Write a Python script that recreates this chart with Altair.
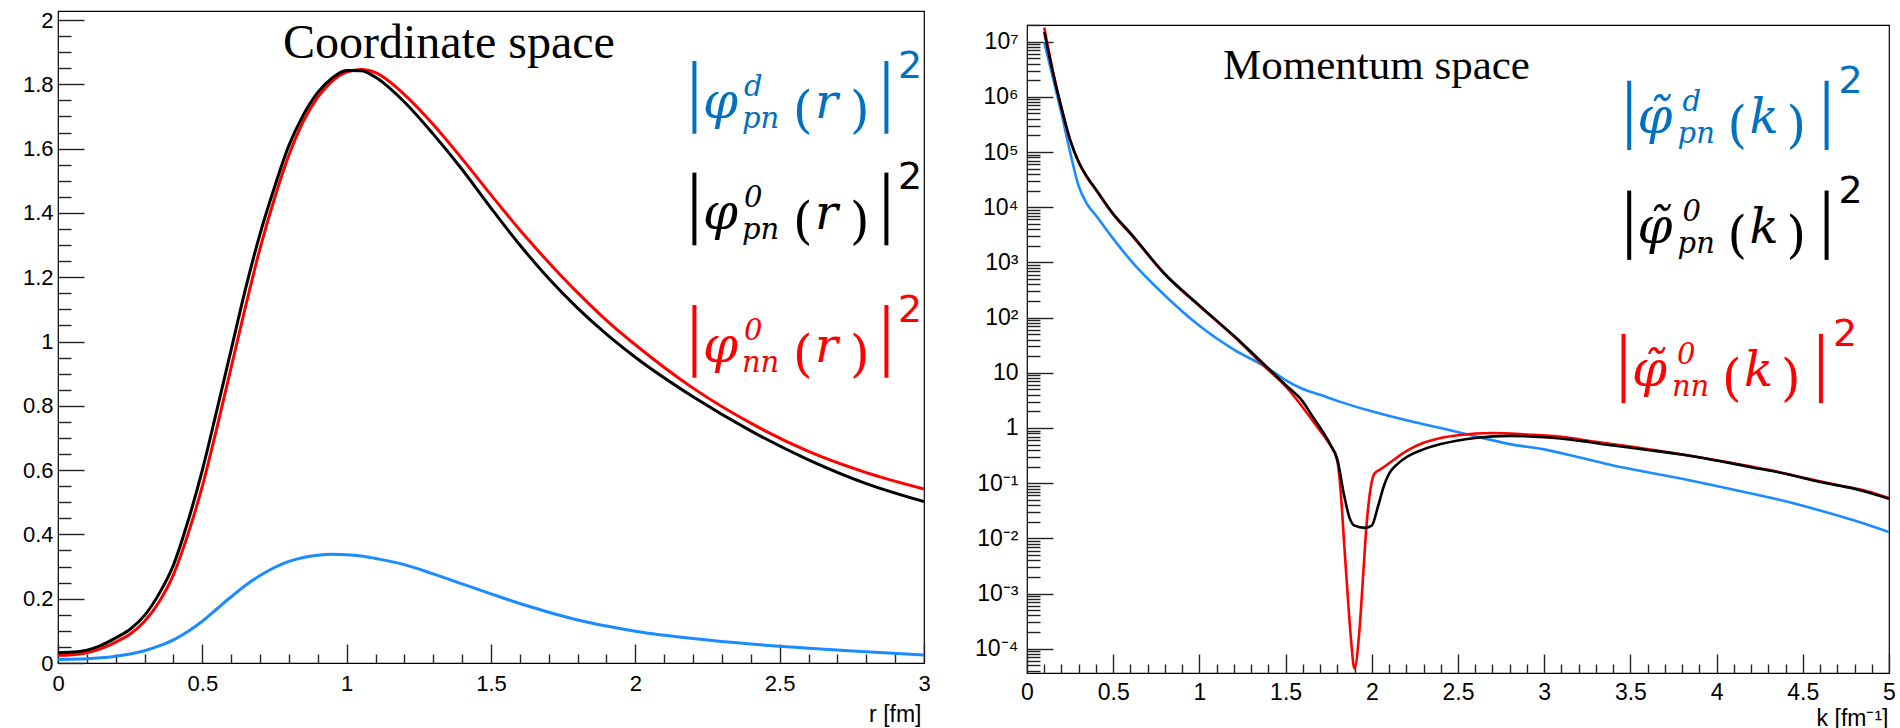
import altair as alt
import pandas as pd

# ---------------- coordinate space (r in fm) ----------------
R = [0.0, 0.05, 0.1, 0.15, 0.2, 0.25, 0.3, 0.35, 0.4, 0.45, 0.5, 0.55, 0.6, 0.65, 0.7, 0.75,
     0.8, 0.85, 0.9, 0.95, 1.0, 1.05, 1.1, 1.2, 1.3, 1.4, 1.5, 1.6, 1.7, 1.8, 1.9, 2.0, 2.2,
     2.4, 2.6, 2.8, 3.0]
PHI_D_R = [0.011, 0.012, 0.013, 0.016, 0.021, 0.028, 0.038, 0.053, 0.072, 0.098, 0.13, 0.168,
           0.206, 0.242, 0.272, 0.297, 0.316, 0.328, 0.335, 0.338, 0.337, 0.333, 0.325, 0.306,
           0.277, 0.246, 0.215, 0.185, 0.158, 0.134, 0.115, 0.099, 0.076, 0.059, 0.046, 0.035,
           0.025]
PHI0_PN_R = [0.032, 0.034, 0.040, 0.055, 0.078, 0.105, 0.148, 0.215, 0.305, 0.44, 0.60, 0.785,
             0.975, 1.165, 1.335, 1.48, 1.61, 1.705, 1.775, 1.82, 1.843, 1.842, 1.822, 1.745,
             1.645, 1.535, 1.415, 1.30, 1.196, 1.104, 1.023, 0.951, 0.828, 0.722, 0.632, 0.558,
             0.502]
PHI0_NN_R = [0.024, 0.026, 0.032, 0.045, 0.065, 0.09, 0.13, 0.19, 0.275, 0.40, 0.55, 0.73,
             0.92, 1.11, 1.29, 1.445, 1.58, 1.685, 1.76, 1.81, 1.838, 1.846, 1.836, 1.768,
             1.675, 1.568, 1.456, 1.347, 1.246, 1.152, 1.066, 0.99, 0.855, 0.746, 0.658, 0.592,
             0.541]

# ---------------- momentum space (k in fm^-1) ----------------
K_PN = [0.1, 0.15, 0.2, 0.25, 0.3, 0.35, 0.4, 0.5, 0.6, 0.8, 1.0, 1.2, 1.4, 1.5, 1.6, 1.65,
        1.7, 1.76, 1.8, 1.84, 1.87, 1.9, 1.96, 2.0, 2.035, 2.07, 2.1, 2.15, 2.2, 2.3, 2.4, 2.6,
        2.8, 3.0, 3.2, 3.4, 3.6, 3.8, 4.0, 4.2, 4.4, 4.6, 4.8, 5.0]
PHI0_PN_K = [1.5e7, 2.8e6, 6.3e5, 1.66e5, 6.6e4, 3.5e4, 2.1e4, 7.6e3, 3.4e3, 617, 166, 46.8,
             12.0, 6.0, 3.0, 1.74, 1.02, 0.50, 0.27, 0.059, 0.024, 0.017, 0.0155, 0.017, 0.037,
             0.089, 0.148, 0.224, 0.295, 0.41, 0.51, 0.66, 0.72, 0.68, 0.59, 0.48, 0.40, 0.33,
             0.257, 0.195, 0.148, 0.105, 0.079, 0.052]
K_NN = [0.1, 0.15, 0.2, 0.25, 0.3, 0.35, 0.4, 0.5, 0.6, 0.8, 1.0, 1.2, 1.4, 1.5, 1.6, 1.65,
        1.7, 1.75, 1.775, 1.79, 1.803, 1.822, 1.841, 1.861, 1.88, 1.899, 1.928, 1.948, 1.967,
        1.986, 2.015, 2.055, 2.1, 2.2, 2.3, 2.4, 2.5, 2.7, 2.9, 3.1, 3.3, 3.5, 3.7, 3.9, 4.1,
        4.3, 4.5, 4.7, 4.9, 5.0]
PHI0_NN_K = [1.8e7, 2.95e6, 6.3e5, 1.66e5, 6.5e4, 3.4e4, 2.05e4, 7.4e3, 3.3e3, 603, 162, 45.7,
             11.2, 5.75, 2.35, 1.45, 0.89, 0.54, 0.40, 0.32, 0.224, 0.056, 6.9e-3, 8.5e-4,
             1.4e-4, 4.4e-5, 2.1e-4, 1.74e-3, 0.0138, 0.056, 0.148, 0.182, 0.229, 0.38, 0.54,
             0.66, 0.74, 0.81, 0.76, 0.69, 0.56, 0.46, 0.37, 0.295, 0.229, 0.174, 0.126, 0.093,
             0.068, 0.054]
K_D = [0.1, 0.15, 0.2, 0.25, 0.3, 0.35, 0.4, 0.5, 0.6, 0.8, 1.0, 1.2, 1.4, 1.5, 1.6, 1.7,
       1.8, 2.0, 2.2, 2.4, 2.6, 2.8, 3.0, 3.2, 3.4, 3.6, 3.8, 4.0, 4.2, 4.4, 4.6, 4.8, 5.0]
PHI_D_K = [9.8e6, 2.24e6, 5.0e5, 1.0e5, 2.4e4, 1.12e4, 7.1e3, 2.7e3, 1.1e3, 251, 71, 26.3,
           12.0, 7.4, 5.1, 4.0, 3.1, 2.0, 1.38, 1.0, 0.71, 0.51, 0.41, 0.295, 0.209, 0.158,
           0.12, 0.089, 0.065, 0.047, 0.032, 0.021, 0.013]

# ---------------- axis ticks / labels ----------------
XMAJ_L = [0, 0.5, 1, 1.5, 2, 2.5, 3]
XMIN_L = [round(0.1 * i, 1) for i in range(1, 30) if i % 5]
YMAJ_L = [0, 0.2, 0.4, 0.6, 0.8, 1.0, 1.2, 1.4, 1.6, 1.8, 2.0]
YMIN_L = [round(0.05 * i, 2) for i in range(1, 41) if i % 4]
XMAJ_R = [0, 0.5, 1, 1.5, 2, 2.5, 3, 3.5, 4, 4.5, 5]
XMIN_R = [round(0.1 * i, 1) for i in range(1, 50) if i % 5]
YMAJ_R = [1e-4, 1e-3, 1e-2, 1e-1, 1, 10, 1e2, 1e3, 1e4, 1e5, 1e6, 1e7]
YMAJ_R_LABELS = ["10⁻⁴", "10⁻³", "10⁻²", "10⁻¹", "1", "10", "10²", "10³", "10⁴", "10⁵",
                 "10⁶", "10⁷"]
YMIN_R = [m * 10.0 ** e for e in range(-5, 8) for m in range(2, 10)
          if 3.63e-5 <= m * 10.0 ** e <= 2.0e7]

# ---------------- annotations ----------------
LEG_WHO = ["d", "pn0", "nn0"]
LEG_SUP = ["d", "0", "0"]
LEG_SUB = ["pn", "pn", "nn"]
LEG_L_X = [2.196, 2.196, 2.196]
LEG_L_Y = [1.696, 1.349, 0.937]
LEG_R_X = [3.478, 3.478, 3.445]
LEG_R_Y = [2.24e5, 2.29e3, 5.8]

BLUE_LINE = "#1a8cff"
LEG_COLORS = alt.Scale(domain=LEG_WHO, range=["#0070c0", "#000000", "#ff0000"])
AXFONT = "Liberation Sans"
MATH = "DejaVu Serif"
TICK_C = "#222222"

WL, HL = 866, 652
WR, HR = 862, 648

XS_L = alt.Scale(domain=[0, 3], nice=False, zero=False)
YS_L = alt.Scale(domain=[0, 2.028], nice=False, zero=False)
XS_R = alt.Scale(domain=[0, 5], nice=False, zero=False)
YS_R = alt.Scale(type="log", domain=[3.63e-5, 2.007e7], nice=False)

df_l = pd.DataFrame({"r": R, "d": PHI_D_R, "pn": PHI0_PN_R, "nn": PHI0_NN_R})
df_rpn = pd.DataFrame({"k": K_PN, "v": PHI0_PN_K})
df_rnn = pd.DataFrame({"k": K_NN, "v": PHI0_NN_K})
df_rd = pd.DataFrame({"k": K_D, "v": PHI_D_K})
leg_l = pd.DataFrame({"x": LEG_L_X, "y": LEG_L_Y, "who": LEG_WHO, "sup": LEG_SUP, "sub": LEG_SUB})
leg_r = pd.DataFrame({"x": LEG_R_X, "y": LEG_R_Y, "who": LEG_WHO, "sup": LEG_SUP, "sub": LEG_SUB})


def line(df, xf, yf, xs, ys, color, width, xaxis=None, yaxis=None):
    return alt.Chart(df).mark_line(color=color, strokeWidth=width, interpolate="monotone",
                                   clip=True).encode(
        x=alt.X(xf, type="quantitative", scale=xs, axis=xaxis),
        y=alt.Y(yf, type="quantitative", scale=ys, axis=yaxis))


def tick_axis(df, xf, yf, xs, ys, chan, orient, values, size):
    ax = alt.Axis(orient=orient, offset=-size, tickSize=size, values=values, labels=False,
                  domain=False, grid=False, ticks=True, tickColor=TICK_C, tickWidth=1.4,
                  title=None, minExtent=0, maxExtent=0)
    return alt.Chart(df).mark_point(opacity=0).encode(
        x=alt.X(xf, type="quantitative", scale=xs, axis=ax if chan == "x" else None),
        y=alt.Y(yf, type="quantitative", scale=ys, axis=ax if chan == "y" else None))


def piece(df, xs, ys, dx, dy, size, font, italic, text=None, field=None):
    props = dict(align="left", baseline="alphabetic", dx=dx, dy=dy, fontSize=size, font=font,
                 fontStyle="italic" if italic else "normal")
    if text is not None:
        props["text"] = text
    enc = dict(x=alt.X("x:Q", scale=xs, axis=None), y=alt.Y("y:Q", scale=ys, axis=None),
               color=alt.Color("who:N", scale=LEG_COLORS, legend=None))
    if field is not None:
        enc["text"] = alt.Text(field + ":N")
    return alt.Chart(df).mark_text(**props).encode(**enc)


def bar(df, xs, ys, xoff, top, bottom):
    return alt.Chart(df).mark_rule(strokeWidth=4, xOffset=xoff, yOffset=top,
                                   y2Offset=bottom).encode(
        x=alt.X("x:Q", scale=xs, axis=None), y=alt.Y("y:Q", scale=ys, axis=None),
        y2=alt.Y2("y"), color=alt.Color("who:N", scale=LEG_COLORS, legend=None))


def legend_layers(df, xs, ys, phi, var, o):
    return [
        bar(df, xs, ys, o["b1"], o["top"], o["bot"]),
        bar(df, xs, ys, o["b2"], o["top"], o["bot"]),
        piece(df, xs, ys, o["phi"], 0, 50, MATH, True, text=phi),
        piece(df, xs, ys, o["sup"], -22, 29, MATH, True, field="sup"),
        piece(df, xs, ys, o["sub"], 10, 29, MATH, True, field="sub"),
        piece(df, xs, ys, o["lp"], 9, 50, MATH, False, text="("),
        piece(df, xs, ys, o["var"], 0, 48, MATH, True, text=var),
        piece(df, xs, ys, o["rp"], 9, 50, MATH, False, text=")"),
        piece(df, xs, ys, o["two"], -40, 38, "DejaVu Sans", False, text="2"),
    ]


common_lbl = dict(labelFont=AXFONT, labelColor="black", labelOverlap=False, ticks=False,
                  tickSize=0, domain=False, grid=False)

# ---------------- left panel ----------------
xl_axis = alt.Axis(orient="bottom", values=XMAJ_L, format="~g", labelFontSize=22,
                   labelPadding=10, labelFlush=False, title="r [fm]", titleFont=AXFONT,
                   titleFontSize=23, titleFontWeight="normal", titleColor="black",
                   titleAnchor="end", titleAlign="right", titleBaseline="alphabetic",
                   titleX=863, titleY=58, **common_lbl)
yl_axis = alt.Axis(orient="left", values=YMAJ_L, format="~g", labelFontSize=22,
                   labelPadding=5, title=None, minExtent=52, maxExtent=52, **common_lbl)

ann_l = pd.DataFrame({"x": [1.354], "y": [1.882], "t": ["Coordinate space"]})
title_l = alt.Chart(ann_l).mark_text(font="Liberation Serif", fontSize=48, align="center",
                                     baseline="alphabetic", color="black").encode(
    x=alt.X("x:Q", scale=XS_L, axis=None), y=alt.Y("y:Q", scale=YS_L, axis=None), text="t:N")

off_l = dict(b1=2.5, b2=194.5, top=-56.7, bot=16, phi=11, sup=52, sub=50,
             lp=101, var=123, rp=158, two=206)

left = alt.layer(
    line(df_l, "r", "d", XS_L, YS_L, BLUE_LINE, 3),
    line(df_l, "r", "nn", XS_L, YS_L, "#ff0000", 3),
    line(df_l, "r", "pn", XS_L, YS_L, "#000000", 3, xaxis=xl_axis, yaxis=yl_axis),
    tick_axis(df_l, "r", "pn", XS_L, YS_L, "x", "bottom", XMAJ_L, 19),
    tick_axis(df_l, "r", "pn", XS_L, YS_L, "x", "bottom", XMIN_L, 9),
    tick_axis(df_l, "r", "pn", XS_L, YS_L, "y", "left", YMAJ_L, 26),
    tick_axis(df_l, "r", "pn", XS_L, YS_L, "y", "left", YMIN_L, 13),
    title_l,
    *legend_layers(leg_l, XS_L, YS_L, "φ", "r", off_l),
).resolve_axis(x="independent", y="independent").properties(width=WL, height=HL)

# ---------------- right panel ----------------
label_expr = "[" + ",".join("'" + s + "'" for s in YMAJ_R_LABELS) + "][round(log(datum.value)/LN10)+4]"
xr_axis = alt.Axis(orient="bottom", values=XMAJ_R, format="~g", labelFontSize=23,
                   labelPadding=8, labelFlush=False, title="k [fm⁻¹]", titleFont=AXFONT,
                   titleFontSize=23, titleFontWeight="normal", titleColor="black",
                   titleAnchor="end", titleAlign="right", titleBaseline="alphabetic",
                   titleX=861, titleY=52, **common_lbl)
yr_axis = alt.Axis(orient="left", values=YMAJ_R, labelExpr=label_expr, labelFontSize=23,
                   labelPadding=9, title=None, minExtent=60, maxExtent=60, labelFlush=False,
                   **common_lbl)

ann_r = pd.DataFrame({"x": [2.027], "y": [2.11e6], "t": ["Momentum space"]})
title_r = alt.Chart(ann_r).mark_text(font="Liberation Serif", fontSize=43, align="center",
                                     baseline="alphabetic", color="black").encode(
    x=alt.X("x:Q", scale=XS_R, axis=None), y=alt.Y("y:Q", scale=YS_R, axis=None), text="t:N")

off_r = dict(b1=2.6, b2=200, top=-52, bot=17.3, phi=11, sup=56, sub=51,
             lp=101, var=123, rp=160, two=212)

right = alt.layer(
    line(df_rd, "k", "v", XS_R, YS_R, BLUE_LINE, 2.6),
    line(df_rnn, "k", "v", XS_R, YS_R, "#ff0000", 2.6),
    line(df_rpn, "k", "v", XS_R, YS_R, "#000000", 2.6, xaxis=xr_axis, yaxis=yr_axis),
    tick_axis(df_rd, "k", "v", XS_R, YS_R, "x", "bottom", XMAJ_R, 19),
    tick_axis(df_rd, "k", "v", XS_R, YS_R, "x", "bottom", XMIN_R, 9),
    tick_axis(df_rd, "k", "v", XS_R, YS_R, "y", "left", YMAJ_R, 26),
    tick_axis(df_rd, "k", "v", XS_R, YS_R, "y", "left", YMIN_R, 13),
    title_r,
    *legend_layers(leg_r, XS_R, YS_R, "φ\u0303", "k", off_r),
).resolve_axis(x="independent", y="independent").properties(width=WR, height=HR)

# thin invisible strip that lowers the right panel relative to the left one
spacer = alt.Chart(pd.DataFrame({"k": [0.0]})).mark_point(opacity=0, size=0).encode(
    x=alt.X("k:Q", axis=None), y=alt.Y("k:Q", axis=None)
).properties(width=WR, height=1, view=alt.ViewBackground(stroke="transparent"))

right_col = alt.vconcat(spacer, right, spacing=10)

chart = alt.hconcat(left, right_col, spacing=35, bounds="full").properties(
    padding={"left": 5, "top": 8, "right": 0, "bottom": 0},
    background="white",
).configure_view(stroke="black", strokeWidth=1.2)

chart.save("out.html", embed_options={"renderer": "svg", "actions": False})
